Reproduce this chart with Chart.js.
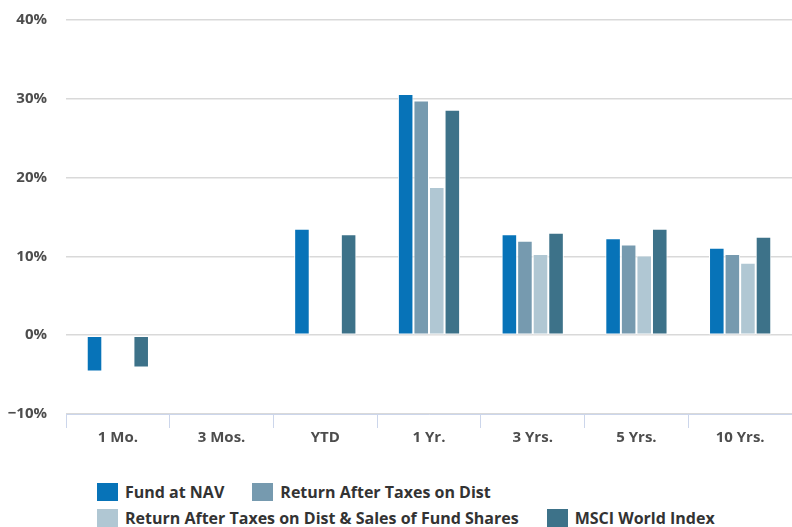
<!DOCTYPE html>
<html>
<head>
<meta charset="utf-8">
<script src="https://cdn.jsdelivr.net/npm/chart.js@4/dist/chart.umd.min.js"></script>
<style>
  html, body { margin: 0; padding: 0; background: #fff; }
  #wrap { position: relative; width: 792px; height: 527px; overflow: hidden; }
  #box { position: absolute; left: 0; top: 0; width: 792px; height: 462px; }
  #legend {
    position: absolute; left: 97px; top: 483px; width: 690px;
    display: flex; flex-wrap: wrap;
    font: bold 16px "Open Sans", sans-serif; color: #333;
  }
  #legend .item { display: flex; align-items: center; height: 18px; margin: 0 28px 8px 0; white-space: nowrap; }
  #legend .swatch { width: 21px; height: 18px; margin-right: 7px; }
</style>
</head>
<body>
<div id="wrap">
  <div id="box"><canvas id="returns"></canvas></div>
  <div id="legend"></div>
</div>
<script>
// Periodes et rendements (%)
const periods = ['1 Mo.', '3 Mos.', 'YTD', '1 Yr.', '3 Yrs.', '5 Yrs.', '10 Yrs.'];
const fundNav = [-4.6, 0, 13.5, 30.6, 12.8, 12.3, 11.1];
const afterTaxDist = [null, null, null, 29.8, 12.0, 11.5, 10.3];
const afterTaxSale = [null, null, null, 18.8, 10.3, 10.1, 9.2];
const msciWorld = [-4.1, null, 12.8, 28.6, 13.0, 13.5, 12.5];

const seriesNames = [
  'Fund at NAV',
  'Return After Taxes on Dist',
  'Return After Taxes on Dist & Sales of Fund Shares',
  'MSCI World Index'
];
const seriesColors = ['#0773b8', '#769aaf', '#b0c7d3', '#3d7289'];
const yTicks = [-10, 0, 10, 20, 30, 40];

// Legende HTML (deux lignes, alignee a gauche)
const htmlLegend = {
  id: 'htmlLegend',
  afterUpdate(chart) {
    const ul = document.getElementById('legend');
    ul.innerHTML = '';
    const items = chart.options.plugins.legend.labels.generateLabels(chart);
    items.forEach(item => {
      const li = document.createElement('div');
      li.className = 'item';
      const sw = document.createElement('span');
      sw.className = 'swatch';
      sw.style.background = seriesColors[item.datasetIndex];
      const txt = document.createElement('span');
      txt.textContent = item.text;
      li.appendChild(sw);
      li.appendChild(txt);
      ul.appendChild(li);
    });
  }
};

const ds = [fundNav, afterTaxDist, afterTaxSale, msciWorld].map((values, i) => ({
  label: seriesNames[i],
  data: values,
  backgroundColor: seriesColors[i],
  borderColor: '#ffffff',
  borderWidth: 1,
  borderSkipped: false,
  categoryPercentage: 0.6,
  barPercentage: 1
}));

const ctx = document.getElementById('returns').getContext('2d');
const chart = new Chart(ctx, {
  type: 'bar',
  data: { labels: periods, datasets: ds },
  plugins: [htmlLegend],
  options: {
    responsive: true,
    maintainAspectRatio: false,
    animation: false,
    layout: { padding: { top: 20, right: 0, bottom: 14, left: 0 } },
    plugins: {
      legend: { display: false },
      tooltip: { enabled: false }
    },
    scales: {
      x: {
        offset: true,
        grid: {
          offset: true,
          drawOnChartArea: false,
          drawTicks: true,
          tickLength: 14,
          color: '#ccd6eb'
        },
        border: { display: true, color: '#ccd6eb', width: 1 },
        ticks: {
          padding: 1,
          color: '#4d4d4d',
          font: { family: '"Open Sans", sans-serif', size: 15, weight: 'bold' }
        }
      },
      y: {
        min: -10,
        max: 40,
        afterFit(scale) {
          scale.width = 66;
          scale.paddingTop = 0;
          scale.paddingBottom = 0;
        },
        afterBuildTicks(scale) { scale.ticks = yTicks.map(v => ({ value: v })); },
        grid: { color: '#d9d9d9', lineWidth: 1.5, drawTicks: false },
        border: { display: false },
        ticks: {
          padding: 19,
          color: '#4d4d4d',
          font: { family: '"Open Sans", sans-serif', size: 15, weight: 'bold' },
          callback: v => (v < 0 ? '\u2212' + Math.abs(v) : v) + '%'
        }
      }
    }
  }
});
</script>
</body>
</html>
